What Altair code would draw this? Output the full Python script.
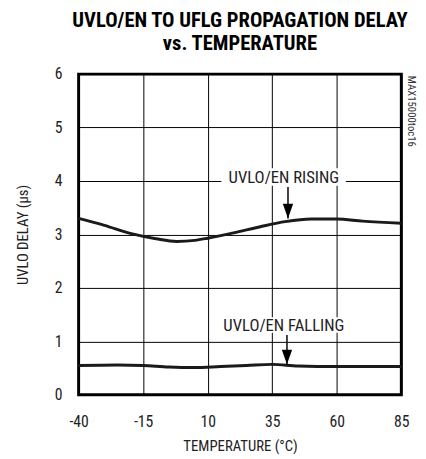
import altair as alt
import pandas as pd

rise_t = [-40, -30, -20, -10, -2, 5, 10, 20, 30, 40, 50, 60, 70, 85]
rise_v = [3.30, 3.17, 3.02, 2.92, 2.87, 2.89, 2.93, 3.03, 3.14, 3.24, 3.29, 3.29, 3.25, 3.21]
fall_t = [-40, -25, -15, -5, 5, 15, 25, 35, 45, 60, 85]
fall_v = [0.55, 0.56, 0.55, 0.52, 0.51, 0.53, 0.55, 0.57, 0.54, 0.53, 0.53]
x_ticks = [-40, -15, 10, 35, 60, 85]
y_ticks = [0, 1, 2, 3, 4, 5, 6]

FONT = "Roboto Condensed"
TFONT = "Roboto Condensed"

df = pd.DataFrame(
    [{"t": t, "v": v, "s": "rise"} for t, v in zip(rise_t, rise_v)]
    + [{"t": t, "v": v, "s": "fall"} for t, v in zip(fall_t, fall_v)]
)

labels = pd.DataFrame({
    "text": ["UVLO/EN RISING", "UVLO/EN FALLING"],
    "t": [39.5, 39.5],
    "v": [4.06, 1.29],
    "t1": [15.3, 17.0],
    "t2": [63.5, 62.0],
    "v1": [3.91, 1.16],
    "v2": [4.24, 1.45],
})
arrows = pd.DataFrame({
    "t": [41.1, 40.7],
    "v1": [3.89, 1.12],
    "v2": [3.30, 0.57],
})

xs = alt.Scale(domain=[-40, 85], nice=False)
ys = alt.Scale(domain=[0, 6], nice=False)

base = alt.Chart(df)

lines = base.mark_line(color="#1a1a1a", strokeWidth=3, interpolate="monotone").encode(
    x=alt.X("t:Q", scale=xs, axis=alt.Axis(
        values=x_ticks, labelExpr="'' + datum.value", title="TEMPERATURE (°C)", grid=True,
        gridColor="black", gridOpacity=1, gridWidth=1, domain=False, ticks=False,
        labelPadding=19, labelFlush=False, labelFontSize=16, labelFont=FONT, labelColor="#222",
        titleFont=FONT, titleFontSize=15, titleFontWeight="normal", titleColor="#222",
        titlePadding=10)),
    y=alt.Y("v:Q", scale=ys, axis=alt.Axis(
        values=y_ticks, format="d", title="UVLO DELAY (µs)", grid=True, gridColor="black",
        gridOpacity=1, gridWidth=1, domain=False, ticks=False, labelPadding=17,
        labelFlush=False, labelFontSize=16, labelFont=FONT, labelColor="#222", titleFont=FONT,
        titleFontSize=15, titleFontWeight="normal", titleColor="#222", titlePadding=24)),
    detail="s:N",
)

boxes = alt.Chart(labels).mark_rect(color="white").encode(
    x=alt.X("t1:Q", scale=xs), x2="t2:Q", y=alt.Y("v1:Q", scale=ys), y2="v2:Q"
)
texts = alt.Chart(labels).mark_text(font=FONT, fontSize=17, color="#222").encode(
    x=alt.X("t:Q", scale=xs), y=alt.Y("v:Q", scale=ys), text="text:N"
)
shafts = alt.Chart(arrows).mark_rule(color="black", strokeWidth=1.5).encode(
    x=alt.X("t:Q", scale=xs), y=alt.Y("v1:Q", scale=ys), y2="v2:Q"
)
heads = alt.Chart(arrows).mark_point(
    shape="M-0.35,-1 L0.35,-1 L0,0 Z", filled=True, color="black", opacity=1, size=900
).encode(x=alt.X("t:Q", scale=xs), y=alt.Y("v2:Q", scale=ys))

side = alt.Chart(pd.DataFrame({"text": ["MAX15000toc16"]})).mark_text(
    font=FONT, fontSize=11, angle=90, color="#333"
).encode(x=alt.value(339), y=alt.value(38), text="text:N")

chart = alt.layer(boxes, lines, texts, shafts, heads, side).properties(
    width=329,
    height=327,
    autosize=alt.AutoSizeParams(type="none"),
    padding={"left": 72, "top": 63, "right": 17, "bottom": 60},
    title=alt.TitleParams(
        ["UVLO/EN TO UFLG PROPAGATION DELAY", "vs. TEMPERATURE"],
        font=TFONT, fontSize=21, fontWeight="bold", color="black",
        anchor="middle", frame="group", offset=13, lineHeight=23,
    ),
).configure_view(stroke="black", strokeWidth=3)

chart.save("out.html", embed_options={"renderer": "svg", "actions": False})
